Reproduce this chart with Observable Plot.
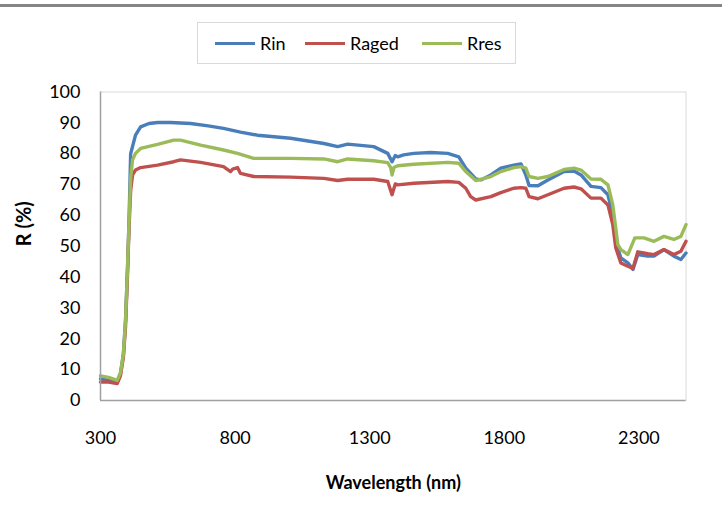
<!DOCTYPE html>
<html>
<head>
<meta charset="utf-8">
<script src="https://cdn.jsdelivr.net/npm/d3@7"></script>
<script src="https://cdn.jsdelivr.net/npm/@observablehq/plot@0.6"></script>
<style>
  html, body { margin: 0; padding: 0; background: #fff; }
  #wrap { position: relative; width: 722px; height: 528px; overflow: hidden; font-family: Lato, "Open Sans", sans-serif; }
  #topline { position: absolute; left: 0; top: 4px; width: 722px; height: 3px; background: #858585; }
  #legend { position: absolute; left: 197px; top: 22px; width: 317px; height: 40px; border: 1px solid #d9d9d9; box-sizing: content-box; background: #fff; }
  .item { position: absolute; top: 0; height: 40px; display: flex; align-items: center; font-size: 18px; color: #000; }
  .sw { display: inline-block; width: 40px; height: 3px; margin-right: 5px; }
</style>
</head>
<body>
<div id="wrap">
  <div id="chart"></div>
  <div id="topline"></div>
  <div id="legend"></div>
</div>
<script>
// Series names and colours
const seriesNames = ["Rin", "Raged", "Rres"];
const seriesColors = ["#4a7ebb", "#c0504d", "#9bbb59"];

// Rin
const rinNm = [300,330,362,374,385,393,400,406,412,430,449,480,512,560,635,700,757,820,883,1006,1130,1181,1218,1315,1367,1383,1395,1404,1426,1464,1527,1590,1631,1657,1694,1713,1750,1787,1835,1862,1880,1892,1925,1962,2022,2059,2085,2122,2159,2185,2203,2214,2233,2259,2278,2296,2333,2356,2393,2430,2456,2475];
const rinR  = [7,6.5,6,8.5,15,26,42,58,80,86,88.7,89.8,90.1,90.1,89.8,89,88.2,87,86,85,83.3,82.3,83.1,82.3,80.1,77.4,79.4,79,79.6,80.1,80.4,80.1,79,75.3,71.8,71.5,73.1,75.3,76.3,76.7,73.1,69.7,69.6,71.5,74.2,74.4,73.1,69.4,69,66.7,60.3,51.6,46.2,44.6,42.5,47.3,46.8,46.8,48.9,46.8,45.7,47.8];

// Raged
const agedNm = [300,330,362,374,385,393,400,406,412,419,430,449,512,572,597,672,757,783,791,809,820,869,1006,1130,1181,1218,1315,1367,1383,1395,1404,1464,1590,1631,1657,1675,1694,1750,1787,1835,1862,1880,1892,1925,1962,2022,2059,2085,2122,2159,2185,2203,2214,2233,2259,2278,2296,2333,2356,2393,2430,2456,2475];
const agedR  = [6,6,5.5,8,14,24,40,56,68,73.1,74.7,75.5,76.3,77.4,78,77.2,75.8,74.2,75,75.5,73.6,72.6,72.4,72,71.3,71.7,71.7,71,66.7,70.2,69.9,70.4,71,70.7,68.8,66.1,65,66.1,67.4,68.8,69,68.8,66.1,65.4,66.7,68.8,69.2,68.6,65.6,65.6,63.4,57,49.5,44.6,43.5,42.8,48.2,47.6,47.3,48.9,47.3,48.4,51.6];

// Rres
const resNm = [300,330,362,374,385,393,400,406,412,419,430,449,512,572,597,672,757,809,869,1006,1130,1181,1218,1315,1367,1378,1383,1390,1404,1464,1590,1631,1657,1694,1750,1787,1835,1862,1880,1892,1925,1962,2022,2059,2085,2122,2159,2185,2203,2222,2233,2259,2285,2319,2356,2393,2430,2456,2475];
const resR  = [8,7.5,6.5,9,15,26,42,58,72,78,80.1,81.7,83,84.4,84.4,82.8,81.2,80.1,78.5,78.5,78.3,77.4,78.3,77.7,77.1,75.5,73.1,75.5,76.1,76.6,77.2,76.9,74.2,71.3,72.6,74.2,75.5,75.8,75.3,72.6,72,72.6,74.9,75.3,74.7,71.8,71.7,69.9,63.4,50.5,48.9,47.3,52.7,52.7,51.6,53.2,52.2,53.2,57];

// Axis ticks
const xTicks = [300, 800, 1300, 1800, 2300];
const yTicks = [0, 10, 20, 30, 40, 50, 60, 70, 80, 90, 100];

const data = [
  ...rinNm.map((w, i) => ({ series: "Rin", wl: w, r: rinR[i] })),
  ...agedNm.map((w, i) => ({ series: "Raged", wl: w, r: agedR[i] })),
  ...resNm.map((w, i) => ({ series: "Rres", wl: w, r: resR[i] }))
];

const font = "Lato, 'Open Sans', sans-serif";

const chart = Plot.plot({
  width: 722,
  height: 528,
  marginLeft: 100,
  marginRight: 36.5,
  marginTop: 91.5,
  marginBottom: 128,
  style: { fontFamily: font, fontSize: "18px", color: "#000", background: "#fff" },
  x: { domain: [300, 2475], ticks: xTicks, tickSize: 0, tickPadding: 31, label: null, tickFormat: d => String(d) },
  y: { domain: [0, 100], ticks: yTicks, tickSize: 0, tickPadding: 20, label: null },
  color: { domain: seriesNames, range: seriesColors },
  marks: [
    Plot.frame({ stroke: "#d9d9d9" }),
    Plot.lineY(data, { x: "wl", y: "r", z: "series", stroke: "series", strokeWidth: 3.4, strokeLinejoin: "round" }),
    Plot.ruleX([300], { stroke: "#a0a0a0", strokeWidth: 1.5 }),
    Plot.ruleY([0], { stroke: "#a0a0a0", strokeWidth: 1.5 }),
    Plot.text(["Wavelength (nm)"], { frameAnchor: "bottom", dy: 88, fontSize: 18, fontWeight: "bold", fontFamily: font, fill: "#000" }),
    Plot.text(["R (%)"], { frameAnchor: "left", dx: -76, rotate: -90, fontSize: 20, fontWeight: "bold", fontFamily: font, fill: "#000" })
  ]
});
document.getElementById("chart").appendChild(chart);

// Legend (HTML, above the svg's plot area)
const legend = document.getElementById("legend");
const lefts = [17, 107, 224];
seriesNames.forEach((name, i) => {
  const it = document.createElement("div");
  it.className = "item";
  it.style.left = lefts[i] + "px";
  const sw = document.createElement("span");
  sw.className = "sw";
  sw.style.background = seriesColors[i];
  it.appendChild(sw);
  it.appendChild(document.createTextNode(name));
  legend.appendChild(it);
});
</script>
</body>
</html>
